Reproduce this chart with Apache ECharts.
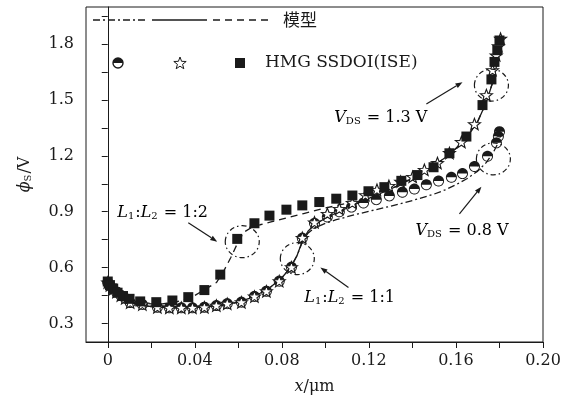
<!DOCTYPE html>
<html>
<head>
<meta charset="utf-8">
<script src="https://cdn.jsdelivr.net/npm/echarts@6/dist/echarts.min.js"></script>
<style>
  html, body { margin: 0; padding: 0; background: #fff; }
  #chart { width: 570px; height: 400px; }
</style>
</head>
<body>
<div id="chart"></div>
<script>
// Surface potential along the channel: model curves and simulated points
const xTickValues = [0, 0.02, 0.04, 0.06, 0.08, 0.10, 0.12, 0.14, 0.16, 0.18, 0.20];
const xLabelValues = [0, 0.04, 0.08, 0.12, 0.16, 0.20];
const yTickValues = [0.3, 0.45, 0.6, 0.75, 0.9, 1.05, 1.2, 1.35, 1.5, 1.65, 1.8, 1.95];
const yLabelValues = [0.3, 0.6, 0.9, 1.2, 1.5, 1.8];

// Model, V_DS = 0.8 V, L1:L2 = 1:1 (dash-dot)
const model08 = [
  [0, 0.52], [0.002, 0.485], [0.005, 0.45], [0.01, 0.415], [0.015, 0.398], [0.02, 0.39],
  [0.03, 0.383], [0.04, 0.385], [0.05, 0.393], [0.055, 0.402], [0.06, 0.414], [0.065, 0.435],
  [0.07, 0.462], [0.075, 0.497], [0.08, 0.545], [0.084, 0.6], [0.087, 0.665], [0.0895, 0.74],
  [0.092, 0.785], [0.095, 0.812], [0.1, 0.838], [0.105, 0.857], [0.11, 0.873], [0.115, 0.888],
  [0.12, 0.902], [0.13, 0.93], [0.14, 0.96], [0.15, 0.995], [0.155, 1.017], [0.16, 1.045],
  [0.165, 1.077], [0.17, 1.118], [0.174, 1.165], [0.177, 1.215], [0.179, 1.26], [0.1805, 1.31]
];
// Model, V_DS = 1.3 V, L1:L2 = 1:1 (solid)
const model13 = [
  [0, 0.52], [0.002, 0.485], [0.005, 0.45], [0.01, 0.415], [0.015, 0.398], [0.02, 0.39],
  [0.03, 0.383], [0.04, 0.385], [0.05, 0.393], [0.055, 0.402], [0.06, 0.414], [0.065, 0.435],
  [0.07, 0.462], [0.075, 0.497], [0.08, 0.545], [0.084, 0.6], [0.087, 0.665], [0.0895, 0.745],
  [0.092, 0.795], [0.095, 0.83], [0.1, 0.865], [0.105, 0.893], [0.11, 0.92], [0.115, 0.946],
  [0.12, 0.972], [0.125, 0.997], [0.13, 1.022], [0.135, 1.05], [0.14, 1.08], [0.145, 1.112],
  [0.15, 1.15], [0.155, 1.19], [0.16, 1.24], [0.165, 1.3], [0.17, 1.385], [0.174, 1.49],
  [0.177, 1.6], [0.179, 1.7], [0.1805, 1.8], [0.181, 1.84]
];
// Model, V_DS = 1.3 V, L1:L2 = 1:2 (dashed)
const model12 = [
  [0, 0.52], [0.002, 0.485], [0.005, 0.452], [0.01, 0.423], [0.015, 0.41], [0.02, 0.405],
  [0.025, 0.405], [0.03, 0.412], [0.035, 0.427], [0.04, 0.45], [0.045, 0.485], [0.05, 0.52],
  [0.053, 0.575], [0.0566, 0.655], [0.0596, 0.73], [0.0625, 0.79], [0.066, 0.815], [0.07, 0.83],
  [0.075, 0.845], [0.08, 0.86], [0.09, 0.89], [0.1, 0.92], [0.11, 0.945], [0.12, 0.972],
  [0.125, 0.997], [0.13, 1.022], [0.135, 1.05], [0.14, 1.08], [0.145, 1.112], [0.15, 1.15],
  [0.155, 1.19], [0.16, 1.24], [0.165, 1.3], [0.17, 1.385], [0.174, 1.49], [0.177, 1.6],
  [0.179, 1.7], [0.1805, 1.8], [0.181, 1.84]
];

// HMG SSDOI (ISE) simulation points
const sim08 = [
  [0, 0.52], [0.001, 0.505], [0.0025, 0.485], [0.004, 0.468], [0.006, 0.45], [0.008, 0.435],
  [0.0103, 0.412], [0.0159, 0.402], [0.0228, 0.387], [0.0283, 0.384], [0.0338, 0.384],
  [0.0389, 0.384], [0.0444, 0.387], [0.0499, 0.396], [0.0549, 0.406], [0.0614, 0.414],
  [0.0674, 0.445], [0.0729, 0.473], [0.0788, 0.527], [0.0844, 0.602], [0.0894, 0.758],
  [0.095, 0.838], [0.1009, 0.872], [0.1064, 0.9], [0.112, 0.925], [0.1175, 0.947],
  [0.1234, 0.965], [0.1294, 0.985], [0.1354, 1.005], [0.1409, 1.022], [0.1464, 1.045],
  [0.152, 1.065], [0.1579, 1.085], [0.163, 1.105], [0.1685, 1.143], [0.1745, 1.198],
  [0.1786, 1.27], [0.1795, 1.305], [0.18, 1.33]
];
const sim13 = [
  [0, 0.52], [0.001, 0.505], [0.0025, 0.485], [0.004, 0.468], [0.006, 0.45], [0.008, 0.435],
  [0.0103, 0.412], [0.0159, 0.402], [0.0228, 0.387], [0.0283, 0.384], [0.0338, 0.384],
  [0.0389, 0.384], [0.0444, 0.387], [0.0499, 0.396], [0.0549, 0.406], [0.0614, 0.414],
  [0.0674, 0.445], [0.0729, 0.473], [0.0788, 0.527], [0.0844, 0.602], [0.0894, 0.76],
  [0.095, 0.843], [0.1009, 0.889], [0.1064, 0.916], [0.1124, 0.948], [0.1184, 0.99],
  [0.1237, 1.018], [0.1292, 1.039], [0.1346, 1.062], [0.1401, 1.088], [0.1455, 1.125],
  [0.1515, 1.162], [0.157, 1.216], [0.1625, 1.275], [0.1685, 1.371], [0.174, 1.527],
  [0.1768, 1.661], [0.1785, 1.74], [0.1795, 1.79], [0.1805, 1.83]
];
const sim12 = [
  [0, 0.525], [0.001, 0.505], [0.0025, 0.487], [0.0045, 0.465], [0.007, 0.447], [0.01, 0.432],
  [0.0149, 0.418], [0.0223, 0.414], [0.0297, 0.423], [0.037, 0.441], [0.0444, 0.479],
  [0.0517, 0.562], [0.0595, 0.754], [0.0674, 0.838], [0.0743, 0.879], [0.0821, 0.911],
  [0.0894, 0.934], [0.0972, 0.952], [0.105, 0.97], [0.1124, 0.987], [0.1198, 1.01],
  [0.1271, 1.032], [0.1349, 1.066], [0.1423, 1.097], [0.1497, 1.139], [0.157, 1.214],
  [0.1648, 1.304], [0.1722, 1.473], [0.1763, 1.611], [0.1777, 1.705], [0.179, 1.768], [0.18, 1.82]
];

const INK = '#1a1a1a';
const SERIF = '"DejaVu Serif", "Liberation Serif", serif';
const CJK = '"Noto Sans CJK SC", sans-serif';
const DASHDOT = [7, 3, 2, 3];
const DASHED = [7, 5];

// polygonal arc from angle a0 to a1 (screen coordinates, y down)
function arcPoints(cx, cy, r, a0, a1, n) {
  const pts = [];
  for (let i = 0; i <= n; i++) {
    const a = a0 + (a1 - a0) * i / n;
    pts.push([cx + r * Math.cos(a), cy + r * Math.sin(a)]);
  }
  return pts;
}
const toD = pts => pts.map((p, i) => (i ? 'L' : 'M') + p[0].toFixed(3) + ',' + p[1].toFixed(3)).join('') + 'Z';

// ring (outer one way, inner the other) plus the upper half of the inner disc
const halfCirclePath = 'path://' +
  toD(arcPoints(10, 10, 10, 0, 2 * Math.PI, 48)) +
  toD(arcPoints(10, 10, 8.3, 2 * Math.PI, 0, 48)) +
  toD(arcPoints(10, 10, 8.3, Math.PI, 2 * Math.PI, 24));

function starPoints(cx, cy, R, r) {
  const pts = [];
  for (let i = 0; i < 10; i++) {
    const rad = i % 2 ? r : R;
    const a = -Math.PI / 2 + i * Math.PI / 5;
    pts.push([cx + rad * Math.cos(a), cy + rad * Math.sin(a)]);
  }
  return pts;
}
const starPath = 'path://' + toD(starPoints(10, 10, 10, 4.2));

const rich = {
  it: { fontFamily: SERIF, fontStyle: 'italic', fontSize: 16, color: INK },
  t: { fontFamily: SERIF, fontSize: 16, color: INK },
  sub: { fontFamily: SERIF, fontSize: 10, color: INK, padding: [7, 1, 0, 0] }
};

const chart = echarts.init(document.getElementById('chart'), null, { renderer: 'canvas' });

const option = {
  backgroundColor: '#fff',
  animation: false,
  grid: { left: 86, right: 27, top: 7, bottom: 57, show: true, borderColor: INK, borderWidth: 1 },
  xAxis: {
    type: 'value', min: -0.01, max: 0.20,
    axisLine: { onZero: false, lineStyle: { color: INK, width: 1 } },
    splitLine: { show: false },
    axisTick: { customValues: xTickValues, length: 6, lineStyle: { color: INK } },
    axisLabel: {
      customValues: xLabelValues, margin: 11, color: INK, fontFamily: SERIF, fontSize: 16,
      formatter: v => (Math.abs(v) < 1e-9 ? '0' : v.toFixed(2))
    },
    name: '{it|x}{t|/μm}', nameLocation: 'middle', nameGap: 37,
    nameTextStyle: { rich }
  },
  yAxis: {
    type: 'value', min: 0.2, max: 2.0,
    axisLine: { lineStyle: { color: INK, width: 1 } },
    splitLine: { show: false },
    axisTick: { customValues: yTickValues, length: 6, lineStyle: { color: INK } },
    axisLabel: {
      customValues: yLabelValues, margin: 12, color: INK, fontFamily: SERIF, fontSize: 16,
      formatter: v => v.toFixed(1)
    },
    name: '{it|ϕ}{sub|S}{t|/V}', nameLocation: 'middle', nameGap: 53, nameRotate: 90,
    nameTextStyle: { rich }
  },
  series: [
    { type: 'line', data: model08, symbol: 'none', z: 2,
      lineStyle: { color: INK, width: 1.3, type: DASHDOT } },
    { type: 'line', data: model13, symbol: 'none', z: 2,
      lineStyle: { color: INK, width: 1.3, type: 'solid' } },
    { type: 'line', data: model12, symbol: 'none', z: 2,
      lineStyle: { color: INK, width: 1.3, type: DASHED } },
    { type: 'scatter', data: sim08, symbol: halfCirclePath, symbolSize: 11, z: 3,
      itemStyle: { color: INK, opacity: 1 } },
    { type: 'scatter', data: sim13, symbol: starPath, symbolSize: 12, symbolKeepAspect: true, z: 4,
      itemStyle: { color: '#fff', borderColor: INK, borderWidth: 1.1, opacity: 1 } },
    { type: 'scatter', data: sim12, symbol: 'rect', symbolSize: 10, z: 5,
      itemStyle: { color: INK, opacity: 1 } }
  ]
};
chart.setOption(option);

// annotations placed in data units
const toPx = p => chart.convertToPixel({ gridIndex: 0 }, p);
const rings = [[0.0618, 0.739], [0.0871, 0.648], [0.1763, 1.58], [0.1772, 1.184]];
const arrows = [
  [[0.1464, 1.479], [0.163, 1.596]],
  [[0.1616, 0.889], [0.1717, 1.034]],
  [[0.037, 0.841], [0.0503, 0.739]],
  [[0.1106, 0.493], [0.0977, 0.60]]
];
const notes = [
  { at: [0.1041, 1.404], text: '{it|V}{sub|DS}{t| = 1.3 V}' },
  { at: [0.1414, 0.795], text: '{it|V}{sub|DS}{t| = 0.8 V}' },
  { at: [0.0044, 0.895], text: '{it|L}{sub|1}{t|:}{it|L}{sub|2}{t| = 1:2}' },
  { at: [0.0903, 0.437], text: '{it|L}{sub|1}{t|:}{it|L}{sub|2}{t| = 1:1}' }
];

const graphic = [];
rings.forEach(c => {
  const p = toPx(c);
  graphic.push({ type: 'ellipse', z: 10, shape: { cx: p[0], cy: p[1], rx: 17, ry: 16 },
    style: { fill: 'none', stroke: INK, lineWidth: 1.2, lineDash: [5, 3, 1.5, 3] } });
});
arrows.forEach(a => {
  const p0 = toPx(a[0]), p1 = toPx(a[1]);
  const dx = p1[0] - p0[0], dy = p1[1] - p0[1];
  const len = Math.hypot(dx, dy), ux = dx / len, uy = dy / len;
  const bx = p1[0] - ux * 7, by = p1[1] - uy * 7;
  graphic.push({ type: 'line', z: 10, shape: { x1: p0[0], y1: p0[1], x2: bx, y2: by },
    style: { stroke: INK, lineWidth: 1.2 } });
  graphic.push({ type: 'polygon', z: 10,
    shape: { points: [[p1[0], p1[1]], [bx - uy * 2.6, by + ux * 2.6], [bx + uy * 2.6, by - ux * 2.6]] },
    style: { fill: INK } });
});
notes.forEach(n => {
  const p = toPx(n.at);
  graphic.push({ type: 'text', z: 10, x: p[0], y: p[1],
    style: { text: n.text, rich, verticalAlign: 'middle', align: 'left' } });
});

// legend
const row1 = 20, row2 = 63;
graphic.push({ type: 'line', shape: { x1: 93, y1: row1, x2: 145, y2: row1 },
  style: { stroke: INK, lineWidth: 1.3, lineDash: DASHDOT } });
graphic.push({ type: 'line', shape: { x1: 152, y1: row1, x2: 207, y2: row1 },
  style: { stroke: INK, lineWidth: 1.3 } });
graphic.push({ type: 'line', shape: { x1: 213, y1: row1, x2: 268, y2: row1 },
  style: { stroke: INK, lineWidth: 1.3, lineDash: DASHED } });
graphic.push({ type: 'text', x: 283, y: row1,
  style: { text: '模型', font: '17px ' + CJK, fill: INK, verticalAlign: 'middle' } });
graphic.push({ type: 'circle', shape: { cx: 118, cy: row2, r: 5 },
  style: { fill: '#fff', stroke: INK, lineWidth: 1.4 } });
graphic.push({ type: 'polygon', shape: { points: arcPoints(118, row2, 5, Math.PI, 2 * Math.PI, 24) },
  style: { fill: INK } });
graphic.push({ type: 'polygon', shape: { points: starPoints(180, row2 + 0.5, 6.5, 2.7) },
  style: { fill: '#fff', stroke: INK, lineWidth: 1 } });
graphic.push({ type: 'rect', shape: { x: 235, y: row2 - 5, width: 10, height: 10 },
  style: { fill: INK } });
graphic.push({ type: 'text', x: 265, y: row2,
  style: { text: 'HMG SSDOI(ISE)', font: '17px ' + SERIF, fill: INK, verticalAlign: 'middle' } });

chart.setOption({ graphic });
</script>
</body>
</html>
